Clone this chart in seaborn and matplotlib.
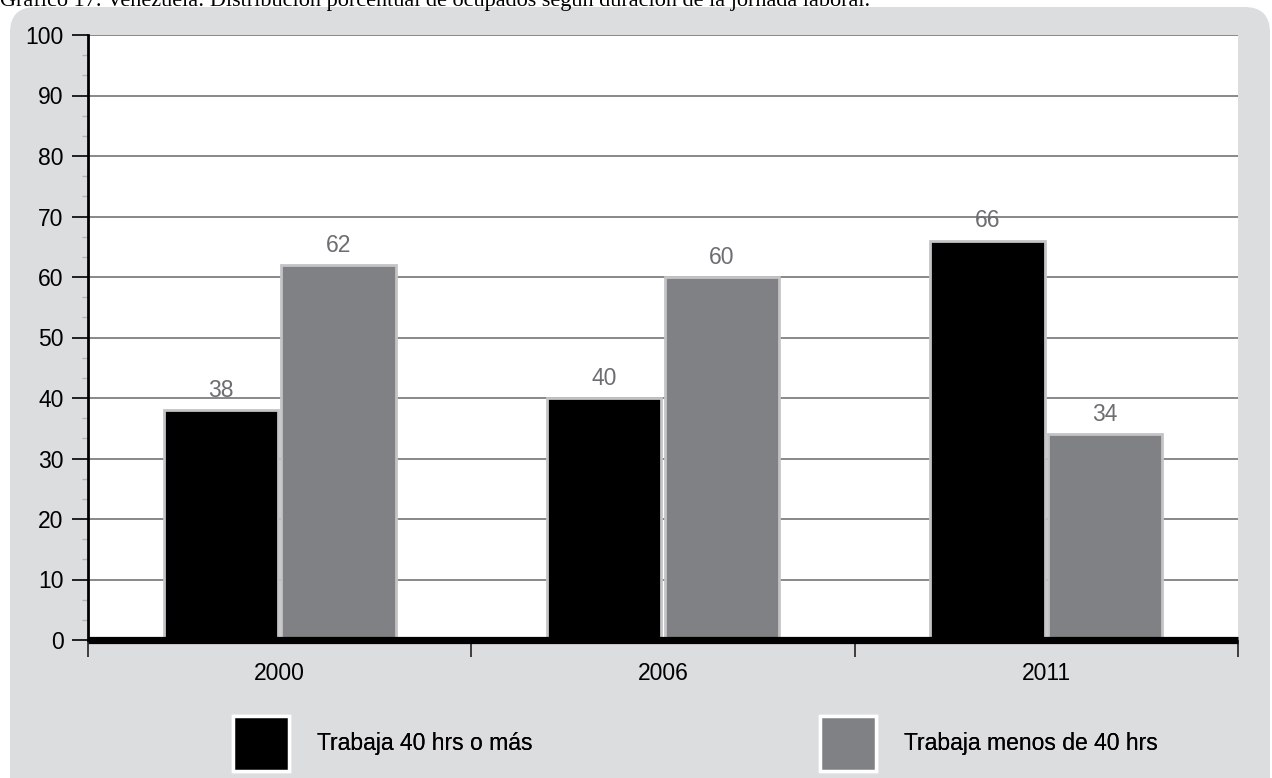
import numpy as np
import pandas as pd
import seaborn as sns
import matplotlib.pyplot as plt
from matplotlib.patches import FancyBboxPatch, Patch
from matplotlib.ticker import MultipleLocator

# Data: distribution of employed people by length of working week (%)
years = ["2000", "2006", "2011"]
series_names = ["Trabaja 40 hrs o más", "Trabaja menos de 40 hrs"]
mas_40 = [38, 40, 66]
menos_40 = [62, 60, 34]
yticks = [0, 10, 20, 30, 40, 50, 60, 70, 80, 90, 100]

title = ("Gráfico 17. Venezuela: Distribución porcentual de ocupados "
         "según duración de la jornada laboral.")

df = pd.DataFrame({
    "year": years * 2,
    "serie": [series_names[0]] * len(years) + [series_names[1]] * len(years),
    "valor": mas_40 + menos_40,
})

sns.set_theme(style="white")
plt.rcParams["font.family"] = ["Liberation Sans", "DejaVu Sans"]

BLACK = "#000000"
GREY = "#808184"
PANEL = "#dcdddf"
EDGE = "#c4c4c6"
LABEL = "#6d6e71"

W, H = 1272, 778
fig = plt.figure(figsize=(W / 100, H / 100), dpi=100, facecolor="white")

# Rounded grey panel behind the chart
panel = FancyBboxPatch((10 / W, -0.05), 1260 / W, 1.05 - 7 / H,
                       boxstyle="round,pad=0,rounding_size=0.02",
                       transform=fig.transFigure, facecolor=PANEL,
                       edgecolor="none", mutation_aspect=W / H, zorder=-1)
fig.patches.append(panel)

# Caption running off the top edge
fig.text(0.0, 1 - 6 / H, title, family="Liberation Serif", fontsize=16,
         ha="left", va="baseline", color="black")

ax_left, ax_right = 88 / W, 1238 / W
ax_bottom, ax_top = 1 - 640 / H, 1 - 35 / H
ax = fig.add_axes([ax_left, ax_bottom, ax_right - ax_left, ax_top - ax_bottom])
ax.set_zorder(1)
ax.set_facecolor("white")

sns.barplot(data=df, x="year", y="valor", hue="serie", order=years,
            hue_order=series_names, palette=[BLACK, GREY], width=0.615,
            gap=0.03, edgecolor=EDGE, linewidth=2, saturation=1,
            legend=False, ax=ax, zorder=3)

# Value labels above each bar
for cont in ax.containers:
    ax.bar_label(cont, padding=6, fontsize=16.5, color=LABEL)

ax.set_xlim(-0.5, len(years) - 0.5)
ax.set_ylim(0, 100)
ax.set_xlabel("")
ax.set_ylabel("")

# Horizontal grid
ax.set_yticks(yticks)
ax.yaxis.set_minor_locator(MultipleLocator(10 / 3))
ax.grid(axis="y", which="major", color="#7f7f7f", linewidth=1.3, zorder=1)
ax.set_axisbelow(True)

ax.tick_params(axis="y", which="major", direction="out", length=11.5,
               width=1.2, color="black", pad=6, labelsize=16.5,
               labelcolor="black", left=True)
ax.tick_params(axis="y", which="minor", direction="out", length=4.5,
               width=1, color="#b5b5b5", left=True)

# Category boundary ticks below the baseline, labels centred
ax.set_xticks(range(len(years)), years)
ax.set_xticks(np.arange(-0.5, len(years), 1.0), minor=True)
ax.tick_params(axis="x", which="major", length=0, pad=16, labelsize=16.5,
               labelcolor="black")
ax.tick_params(axis="x", which="minor", direction="out", length=12,
               width=1.2, color="#222222", bottom=True)

for side in ["top", "right", "bottom"]:
    ax.spines[side].set_visible(False)
ax.spines["left"].set_color("black")
ax.spines["left"].set_linewidth(2)

# Heavy baseline at zero
ax.axhline(0, color="black", linewidth=5.2, zorder=5, clip_on=False,
           solid_capstyle="butt")

# Legend entries with square swatches
handles = [Patch(facecolor=BLACK, edgecolor="white", linewidth=2.5),
           Patch(facecolor=GREY, edgecolor="white", linewidth=2.5)]
xs = [233 / W, 820 / W]
for h, name, x0 in zip(handles, series_names, xs):
    leg = fig.legend([h], [name], loc="center left",
                     bbox_to_anchor=(x0, 1 - 743.5 / H), frameon=False,
                     fontsize=16.5, handlelength=2.45, handleheight=3.3,
                     handletextpad=1.2, borderpad=0, borderaxespad=0)
    for t in leg.get_texts():
        t.set_color("black")
    fig.add_artist(leg)

fig.savefig("out.png", dpi=100, facecolor="white")
